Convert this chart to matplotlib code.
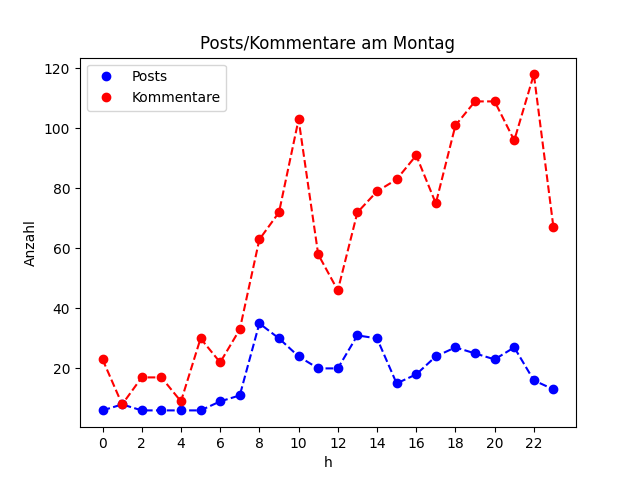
import numpy as np
import matplotlib
matplotlib.use("Agg")
import matplotlib.pyplot as plt

hours = list(range(24))
posts = [6, 8, 6, 6, 6, 6, 9, 11, 35, 30, 24, 20, 20, 31, 30, 15, 18, 24, 27, 25, 23, 27, 16, 13]
kommentare = [23, 8, 17, 17, 9, 30, 22, 33, 63, 72, 103, 58, 46, 72, 79, 83, 91, 75, 101, 109, 109, 96, 118, 67]

fig = plt.figure(figsize=(6.4, 4.8), dpi=100)
plt.plot(hours, posts, 'bo', label='Posts')
plt.plot(hours, posts, 'b--')
plt.plot(hours, kommentare, 'ro', label='Kommentare')
plt.plot(hours, kommentare, 'r--')
plt.xticks(range(0, 24, 2))
plt.xlabel('h')
plt.ylabel('Anzahl')
plt.title('Posts/Kommentare am Montag')
plt.legend(loc='upper left')
fig.savefig('out.png')
